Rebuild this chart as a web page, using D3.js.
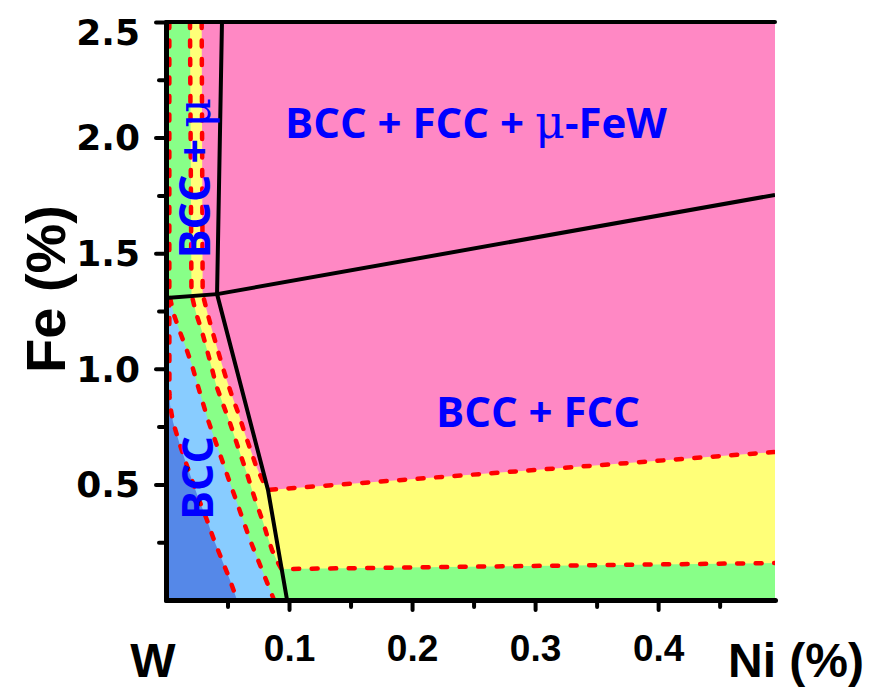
<!DOCTYPE html>
<html>
<head>
<meta charset="utf-8">
<script src="https://cdn.jsdelivr.net/npm/d3@7"></script>
<style>
  body { margin: 0; background: #fff; }
  svg { display: block; }
</style>
</head>
<body>
<div id="chart"></div>
<script>
// ticks
const xMajor = [0.1, 0.2, 0.3, 0.4];
const xMinor = [0.05, 0.15, 0.25, 0.35, 0.45];
const yMajor = [0.5, 1.0, 1.5, 2.0, 2.5];
const yMinor = [0.25, 0.75, 1.25, 1.75, 2.25];

// phase boundaries, [Ni %, Fe %]
// solid lines
const fccLine = [[0.0455, 2.5], [0.0415, 1.323], [0.0829, 0.476], [0.0984, 0]];
const muLeft = [[0, 1.306], [0.0415, 1.323]];
const muRight = [[0.0415, 1.323], [0.495, 1.752]];

// dashed lines
const bccLine = [[0.0027, 2.5], [0.0027, 1.306], [0.0028, 0.887], [0.0033, 0.843], [0.0057, 0.770],
  [0.0106, 0.683], [0.0154, 0.606], [0.0211, 0.519], [0.0268, 0.433], [0.0333, 0.346],
  [0.0390, 0.260], [0.0455, 0.173], [0.0520, 0.087], [0.0577, 0]];
const blueLine = [[0.0033, 1.306], [0.0065, 1.233], [0.0114, 1.159], [0.0163, 1.090], [0.0211, 1.016],
  [0.0252, 0.939], [0.0293, 0.865], [0.0341, 0.779], [0.0398, 0.692], [0.0455, 0.606],
  [0.0512, 0.519], [0.0569, 0.433], [0.0626, 0.346], [0.0683, 0.260], [0.0748, 0.173],
  [0.0813, 0.087], [0.0878, 0]];
const greenLine = [[0.0195, 2.5], [0.0207, 1.323], [0.0244, 1.241], [0.0289, 1.168], [0.0329, 1.090],
  [0.0370, 1.008], [0.0407, 0.930], [0.0451, 0.865], [0.0520, 0.766], [0.0585, 0.662],
  [0.0667, 0.532], [0.0699, 0.476], [0.0740, 0.411], [0.0789, 0.337], [0.0821, 0.281],
  [0.0862, 0.216], [0.0902, 0.169], [0.0939, 0.134], [0.495, 0.160]];
const yellowLine = [[0.0290, 2.5], [0.0298, 1.323], [0.0341, 1.233], [0.0390, 1.138], [0.0439, 1.047],
  [0.0488, 0.960], [0.0537, 0.882], [0.0593, 0.800], [0.0642, 0.718], [0.0691, 0.644],
  [0.0732, 0.580], [0.0780, 0.523], [0.0829, 0.476], [0.495, 0.640]];

// phase labels [Ni, Fe]
const labels = [
  {text: "BCC + FCC + ", mu: "μ", tail: "-FeW", pos: [0.0967, 1.998], rot: false, anchor: "start"},
  {text: "BCC + FCC", pos: [0.3024, 0.748], rot: false, anchor: "middle"},
  {text: "BCC + ", mu: "μ", tail: "", pos: [0.0358, 1.825], rot: true, anchor: "middle"},
  {text: "BCC", pos: [0.0382, 0.528], rot: true, anchor: "middle"}
];

const W = 896, H = 689;
const margin = {top: 22, right: 121, bottom: 89, left: 166};
const width = W - margin.left - margin.right,
      height = H - margin.top - margin.bottom;

const svg = d3.select("#chart").append("svg")
  .attr("width", W).attr("height", H);
const g = svg.append("g")
  .attr("transform", "translate(" + margin.left + "," + margin.top + ")");

const x = d3.scaleLinear().domain([0, 0.495]).range([0, width]);
const y = d3.scaleLinear().domain([0, 2.5]).range([height, 0]);

svg.append("defs").append("clipPath").attr("id", "plot")
  .append("rect").attr("width", width).attr("height", height);

const area = d3.line().x(d => x(d[0])).y(d => y(d[1]));

const plot = g.append("g").attr("clip-path", "url(#plot)");

// fills, back to front
plot.append("rect").attr("width", width).attr("height", height).attr("fill", "#ff88c4");
plot.append("path").attr("fill", "#ffff78")
  .attr("d", area([[0, 2.5]].concat(yellowLine, [[0.495, 0], [0, 0]])) + "Z");
plot.append("path").attr("fill", "#88ff88")
  .attr("d", area([[0, 2.5]].concat(greenLine, [[0.495, 0], [0, 0]])) + "Z");
plot.append("path").attr("fill", "#88ccff")
  .attr("d", area([[0, 1.306]].concat(blueLine, [[0, 0]])) + "Z");
plot.append("path").attr("fill", "#5588e8")
  .attr("d", area([[0, 0.887]].concat(bccLine.filter(d => d[1] <= 0.9), [[0, 0]])) + "Z");

// dashed boundaries
[bccLine, blueLine, greenLine, yellowLine].forEach(function(l) {
  plot.append("path")
    .attr("d", area(l))
    .attr("fill", "none")
    .attr("stroke", "#ff0000")
    .attr("stroke-width", 4.5)
    .attr("stroke-dasharray", "6,12.5")
    .attr("stroke-linecap", "round");
});

// solid boundaries
[fccLine, muLeft, muRight].forEach(function(l) {
  plot.append("path")
    .attr("d", area(l))
    .attr("fill", "none")
    .attr("stroke", "#000")
    .attr("stroke-width", 4)
    .attr("stroke-linejoin", "round");
});

// labels
labels.forEach(function(d) {
  const px = x(d.pos[0]), py = y(d.pos[1]);
  const t = g.append("text")
    .attr("text-anchor", d.anchor)
    .attr("fill", "#0000ff")
    .style("font-family", "'Open Sans', sans-serif")
    .style("font-weight", "bold")
    .style("font-size", d.rot ? "43px" : "42px")
    .attr("transform", d.rot ? "translate(" + px + "," + py + ") rotate(-90)" : "translate(" + px + "," + py + ")");
  t.append("tspan").text(d.text);
  if (d.mu) {
    t.append("tspan").text(d.mu)
      .style("font-family", "'DejaVu Serif', serif")
      .style("font-weight", "normal")
      .style("font-size", "46px");
    t.append("tspan").text(d.tail);
  }
});

// axes
const tickFont = "'Liberation Sans', Arial, sans-serif";

g.append("g").attr("transform", "translate(0," + height + ")")
  .call(d3.axisBottom(x).tickValues(xMajor).tickFormat(d3.format(".1f"))
    .tickSize(10).tickPadding(25).tickSizeOuter(0))
  .selectAll(".tick text")
  .style("font-family", "'Liberation Sans Narrow', " + tickFont)
  .style("font-weight", "bold").style("font-size", "37px");
g.append("g").attr("transform", "translate(0," + height + ")")
  .call(d3.axisBottom(x).tickValues(xMinor).tickFormat("").tickSize(7).tickSizeOuter(0))
  .select(".domain").remove();

g.append("g")
  .call(d3.axisLeft(y).tickValues(yMajor).tickFormat(d3.format(".1f"))
    .tickSize(10).tickPadding(16).tickSizeOuter(0))
  .selectAll(".tick text")
  .style("font-family", "'DejaVu Sans', " + tickFont)
  .style("font-weight", "bold").style("font-size", "36px")
  .attr("dy", d => d === 2.5 ? "0.62em" : "0.34em");
g.append("g")
  .call(d3.axisLeft(y).tickValues(yMinor).tickFormat("").tickSize(7).tickSizeOuter(0))
  .select(".domain").remove();

g.selectAll(".domain").attr("stroke-width", 5).attr("stroke-linecap", "round");
g.selectAll(".tick line").attr("stroke-width", 4).attr("stroke-linecap", "round");

// top border
g.append("line")
  .attr("x1", 0).attr("x2", width).attr("y1", 0).attr("y2", 0)
  .attr("stroke", "#000").attr("stroke-width", 4).attr("stroke-linecap", "round");

// axis titles
g.append("text").text("W")
  .attr("x", -13).attr("y", height + 77)
  .attr("text-anchor", "middle")
  .style("font-family", tickFont).style("font-weight", "bold").style("font-size", "48px");

g.append("text").text("Ni (%)")
  .attr("x", width - 47).attr("y", height + 77)
  .attr("text-anchor", "start")
  .style("font-family", tickFont).style("font-weight", "bold").style("font-size", "48px");

g.append("text").text("Fe (%)")
  .attr("transform", "translate(" + (-101) + "," + (height / 2 - 22) + ") rotate(-90)")
  .attr("text-anchor", "middle")
  .style("font-family", tickFont).style("font-weight", "bold").style("font-size", "56px");
</script>
</body>
</html>
